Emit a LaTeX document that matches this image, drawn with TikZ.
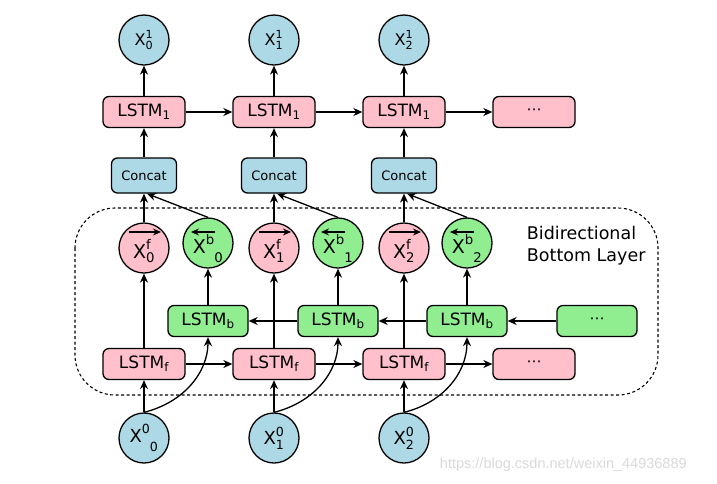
\documentclass[tikz,border=0pt]{standalone}
\usepackage{amsmath}
\usepackage{fontspec}
\setmainfont{DejaVu Sans}
\newfontfamily\wmfont{Liberation Sans}
\usetikzlibrary{arrows.meta,calc}
\definecolor{lblue}{RGB}{173,216,230}
\definecolor{lpink}{RGB}{255,192,203}
\definecolor{lgreen}{RGB}{144,238,144}
\newcommand{\lowsub}[1]{\text{\hphantom{b}\raisebox{-5pt}{#1}}}
\begin{document}
\begin{tikzpicture}[x=1pt,y=-1pt,line width=1.3pt,
  >={Stealth[length=9pt,width=8pt]},
  box/.style={draw,rounded corners=6pt,minimum width=82pt,minimum height=31pt,inner sep=0pt,font=\fontsize{17}{20}\selectfont},
  pinkbox/.style={box,fill=lpink},
  greenbox/.style={box,fill=lgreen,minimum width=80pt},
  concatbox/.style={box,fill=lblue,minimum width=65pt,minimum height=35pt,font=\fontsize{13}{15}\selectfont},
  dotsbox/.style={font=\fontsize{15}{17}\selectfont},
  circ/.style={draw,circle,minimum size=50pt,inner sep=0pt},
  bcirc/.style={circ,fill=lblue},
  pcirc/.style={circ,fill=lpink},
  gcirc/.style={circ,fill=lgreen},
  vec/.style={->,line width=1.2pt,>={Stealth[length=8pt,width=7pt]}},
  region/.style={dashed,dash pattern=on 3pt off 2.5pt,line width=1.1pt,rounded corners=40pt}
]
\useasboundingbox (0,0) rectangle (717,483);
% dashed region
\draw[region] (75,208) rectangle (658,395);
\node[anchor=west,align=left,font=\fontsize{17.5}{22}\selectfont] (title) at (523,246) {Bidirectional\\Bottom Layer};

\foreach \i/\xa/\xb in {0/144/208,1/274/338,2/404/467} {
  \node[bcirc,font=\fontsize{16}{18}\selectfont] (X1\i) at (\xa,40) {$\text{X}^{\text{1}}_{\text{\i}}$};
  \node[pinkbox] (L1\i) at (\xa,112) {LSTM$_{\text{1}}$};
  \node[concatbox] (C\i) at (\xa,175.5) {Concat};
  \node[pcirc,font=\fontsize{19}{21}\selectfont] (XF\i) at (\xa,248) {\raisebox{-10pt}[0pt][0pt]{$\text{X}^{\text{f}}_{\text{\i}}$}};
  \node[gcirc,font=\fontsize{19}{21}\selectfont] (XB\i) at (\xb,243) {\raisebox{-10pt}[0pt][0pt]{$\text{X}^{\text{b}}_{\lowsub{\i}}$}};
  \node[greenbox] (LB\i) at (\xb,321) {LSTM$_{\text{b}}$};
  \node[pinkbox] (LF\i) at (\xa,364) {LSTM$_{\text{f}}$};
}
\node[bcirc,font=\fontsize{18}{20}\selectfont] (X00) at (144,438) {$\text{X}^{\text{0}}_{\lowsub{0}}$};
\node[bcirc,font=\fontsize{18}{20}\selectfont] (X01) at (274,438) {$\text{X}^{\text{0}}_{\text{1}}$};
\node[bcirc,font=\fontsize{18}{20}\selectfont] (X02) at (404,438) {$\text{X}^{\text{0}}_{\text{2}}$};

\node[pinkbox,dotsbox] (D1) at (534,112) {⋯};
\node[pinkbox,dotsbox] (DF) at (534,364) {⋯};
\node[greenbox,dotsbox] (DB) at (597,321) {⋯};

\foreach \i in {0,1,2} {
  \draw[vec] ($(XF\i)+(-15,-16)$) -- ++(32,0);
  \draw[vec] ($(XB\i)+(7,-11)$) -- ++(-24,0);
  \draw[->] (X0\i) -- (LF\i);
  \draw[->] (X0\i.north) .. controls +(40,-10) and +(0,35) .. (LB\i.south);
  \draw[->] (LF\i) -- (XF\i);
  \draw[->] (LB\i) -- (XB\i);
  \draw[->] (XF\i) -- (C\i);
  \draw[->] (XB\i.north) -- ([xshift=3pt]C\i.south);
  \draw[->] (C\i) -- (L1\i);
  \draw[->] (L1\i) -- (X1\i);
}
\draw[->] (L10) -- (L11);
\draw[->] (L11) -- (L12);
\draw[->] (L12) -- (D1);
\draw[->] (LF0) -- (LF1);
\draw[->] (LF1) -- (LF2);
\draw[->] (LF2) -- (DF);
\draw[->] (DB) -- (LB2);
\draw[->] (LB2) -- (LB1);
\draw[->] (LB1) -- (LB0);

\node[anchor=west,text=black!15,font=\wmfont\fontsize{14.5}{16}\selectfont] (wm) at (436,465) {https://blog.csdn.net/weixin\_44936889};
\end{tikzpicture}
\end{document}
